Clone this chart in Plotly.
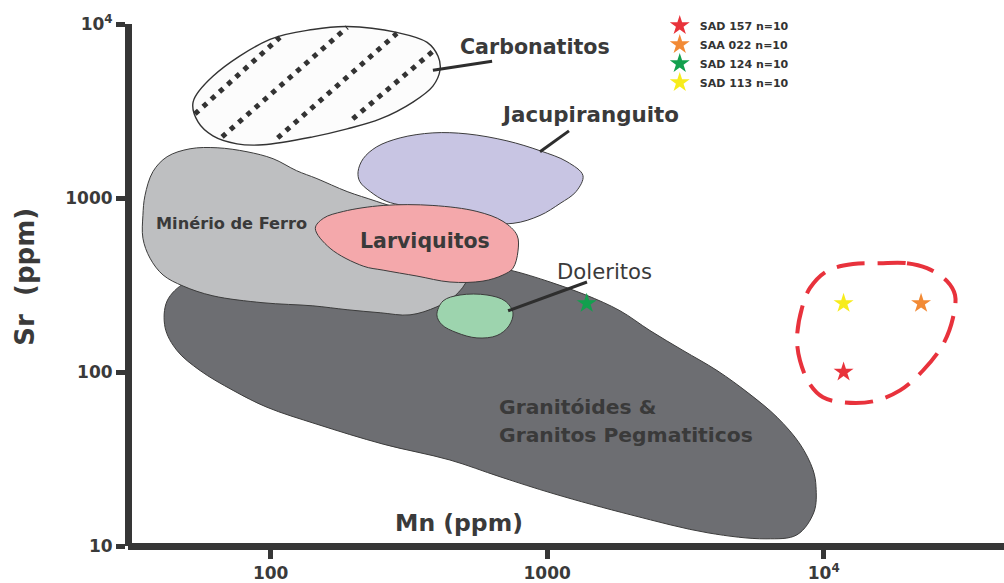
import math
import plotly.graph_objects as go

# ---- Fields in the Mn (ppm) x Sr (ppm) plane ----
GRANITE_MN = [49.0, 42.2, 41.5, 45.8, 55.5, 73.1, 97.0, 147, 255, 445, 675, 1058, 2009, 3815,
              6184, 8008, 9224, 9380, 9148, 8212, 6778, 5414, 4113, 3098, 2354, 1833, 1381,
              1024, 734, 526, 294, 128, 60.3]
GRANITE_SR = [325, 256, 180, 133, 102, 78.4, 62.7, 50.1, 38.5, 31.2, 25.0, 19.95, 15.1, 11.9,
              11.0, 11.6, 15.7, 21.9, 27.4, 38.5, 55.0, 74.4, 102, 133, 173, 225, 277,
              329, 385, 422, 422, 385, 347]

IRON_MN = [34.5, 35.1, 37.5, 42.2, 51.1, 64.0, 82.1, 102, 124, 147, 189, 242, 377, 526,
           517, 464, 399, 319, 249, 189, 142, 93.8, 61.8, 48.2, 40.8, 36.6, 34.5]
IRON_SR = [794, 1033, 1417, 1727, 1918, 1944, 1844, 1682, 1436, 1292, 1089, 955, 744, 514,
           347, 274, 237, 213, 219, 228, 240, 250, 274, 312, 361, 451, 587]

JACU_MN = [207, 216, 242, 294, 386, 513, 715, 942, 1179, 1347, 1272, 1113, 942,
           752, 526, 347, 263, 229, 210]
JACU_SR = [1417, 1682, 1970, 2216, 2367, 2336, 2131, 1869, 1617, 1345, 1089, 930, 794,
           715, 744, 871, 955, 1089, 1243]

LARV_MN = [145, 155, 183, 255, 386, 557, 692, 778, 784, 752, 692, 586, 445, 338, 255, 216, 164]
LARV_SR = [669, 764, 837, 906, 906, 837, 734, 611, 495, 395, 361, 333, 329, 356, 385, 406, 514]

DOL_MN = [399, 420, 484, 606, 704, 752, 727, 658, 557, 472, 416]
DOL_SR = [213, 256, 277, 277, 256, 219, 184, 162, 157, 168, 187]

CARB_MN = [52.4, 61.8, 99.4, 142, 189, 286, 368, 403, 410, 386, 327, 249, 189, 142, 93.8,
           75.5, 61.8, 54.6]
CARB_SR = [3560, 5012, 8156, 9301, 9676, 8943, 7841, 6520, 5495, 4395, 3560, 2846, 2495,
           2246, 2022, 2048, 2276, 2736]

# dotted hatch strokes inside the carbonatite field: (Mn start, Mn end), (Sr start, Sr end)
HATCH_MN = [(53.2, 108), (66.7, 189), (106, 286), (198, 386)]
HATCH_SR = [(3040, 8374), (2246, 9550), (2216, 8825), (2846, 6966)]

# leader lines from labels to fields
LEADER_MN = [(386, 632), (942, 1199), (722, 1393)]
LEADER_SR = [(5424, 6106), (1844, 2430), (225, 329)]

# dashed envelope around the studied samples
ENVELOPE_MN = [15980, 20010, 23640, 27920, 29850, 29350, 27010, 22860, 18880, 15080, 11746,
               9940, 8923, 8212, 8008, 8350, 8923, 10278, 12764]
ENVELOPE_SR = [422, 422, 395, 333, 277, 205, 144, 102, 78.4, 67.8, 66.9, 71.5, 84.8, 116,
               157, 234, 304, 380, 417]

# ---- Samples ----
SAMPLES = ["SAD 157 n=10", "SAA 022 n=10", "SAD 124 n=10", "SAD 113 n=10"]
SAMPLE_MN = [11800, 22500, 1390, 11800]
SAMPLE_SR = [100, 248, 248, 248]
SAMPLE_COLORS = ["#e8333b", "#f28a35", "#12a04e", "#f7ec1c"]

# ---- Axis ticks ----
X_TICKS = [100, 1000, 10000]
X_TICKTEXT = ["100", "1000", "10<sup>4</sup>"]
Y_TICKS = [10, 100, 1000, 10000]
Y_TICKTEXT = ["10", "100", "1000", "10<sup>4</sup>"]

INK = "#363636"
FONT = "DejaVu Sans"

fig = go.Figure()


def add_field(mn, sr, fill, edge="#3c3c3c", width=1.0):
    fig.add_trace(go.Scatter(
        x=mn + mn[:1], y=sr + sr[:1], mode="lines", fill="toself", fillcolor=fill,
        line=dict(color=edge, width=width, shape="spline", smoothing=1.0),
        hoverinfo="skip", showlegend=False))


add_field(GRANITE_MN, GRANITE_SR, "#6d6e72")
add_field(IRON_MN, IRON_SR, "#bebfc1")
add_field(JACU_MN, JACU_SR, "#c8c5e3")
add_field(LARV_MN, LARV_SR, "#f4a8ab")
add_field(DOL_MN, DOL_SR, "#9dd4ae")
add_field(CARB_MN, CARB_SR, "#fcfcfc", edge="#333333", width=1.4)

for mn, sr in zip(HATCH_MN, HATCH_SR):
    fig.add_trace(go.Scatter(x=list(mn), y=list(sr), mode="lines",
                             line=dict(color="#333333", width=5, dash="5px,6px"),
                             hoverinfo="skip", showlegend=False))

for mn, sr in zip(LEADER_MN, LEADER_SR):
    fig.add_trace(go.Scatter(x=list(mn), y=list(sr), mode="lines",
                             line=dict(color="#2e2e2e", width=3),
                             hoverinfo="skip", showlegend=False))

fig.add_trace(go.Scatter(
    x=ENVELOPE_MN + ENVELOPE_MN[:1], y=ENVELOPE_SR + ENVELOPE_SR[:1], mode="lines",
    line=dict(color="#e8323c", width=4, dash="28px,13px", shape="spline", smoothing=1.0),
    hoverinfo="skip", showlegend=False))

for name, mn, sr, col in zip(SAMPLES, SAMPLE_MN, SAMPLE_SR, SAMPLE_COLORS):
    fig.add_trace(go.Scatter(
        x=[mn], y=[sr], mode="markers", name=name,
        marker=dict(symbol="star", size=15, color=col, line=dict(width=0))))

# ---- Field labels ----
LABELS = [
    ("Carbonatitos", 904, 7400, 20.6, "bold", "center"),
    ("Jacupiranguito", 1428, 3000, 21.4, "bold", "center"),
    ("Larviquitos", 361, 565, 20.5, "bold", "center"),
    ("Minério de Ferro", 71.9, 716, 16.2, "bold", "center"),
    ("Doleritos", 1605, 376, 21.2, "normal", "center"),
    ("Granitóides &", 658, 62.7, 20.3, "bold", "left"),
    ("Granitos Pegmatiticos", 658, 43.4, 20.3, "bold", "left"),
    ("Mn (ppm)", 480, 13.6, 23.5, "bold", "center"),
]
for text, mn, sr, size, weight, anchor in LABELS:
    fig.add_annotation(
        x=math.log10(mn), y=math.log10(sr), xref="x", yref="y", text=text,
        showarrow=False, xanchor=anchor, yanchor="middle", align="left",
        font=dict(family=FONT, size=size, weight=weight, color="#3a3a3a"))

fig.add_annotation(
    x=-0.1176, y=0.516, xref="paper", yref="paper", text="Sr  (ppm)", textangle=-90,
    showarrow=False, xanchor="center", yanchor="middle",
    font=dict(family=FONT, size=26, weight="bold", color="#3a3a3a"))

axis_common = dict(
    type="log", showline=True, linewidth=7, linecolor=INK, ticks="outside", ticklen=9,
    tickwidth=5, tickcolor=INK, showgrid=False, zeroline=False, anchor="free", position=0,
    tickfont=dict(family=FONT, size=17, weight="bold", color="#3a3a3a"))

fig.update_layout(
    width=1004, height=583,
    margin=dict(l=128, r=0, t=24, b=34),
    paper_bgcolor="white", plot_bgcolor="white",
    xaxis=dict(range=[1.4839, 4.6521], tickvals=X_TICKS, ticktext=X_TICKTEXT, **axis_common),
    yaxis=dict(range=[1, 4], tickvals=Y_TICKS, ticktext=Y_TICKTEXT, **axis_common),
    legend=dict(x=0.607, y=1.025, xanchor="left", yanchor="top", bgcolor="rgba(0,0,0,0)",
                font=dict(family=FONT, size=11, weight="bold", color="#333333"),
                itemclick=False),
    showlegend=True,
)

fig.write_html("out.html")
